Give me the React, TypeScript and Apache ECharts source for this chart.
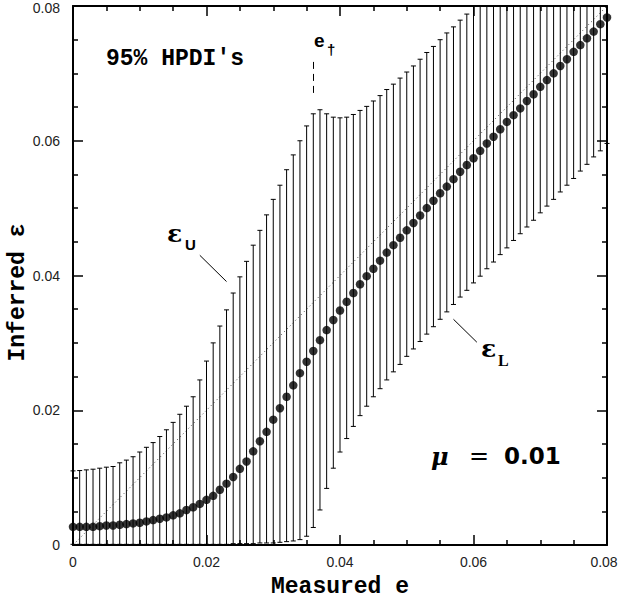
import React, { useEffect, useRef } from "react";
import * as echarts from "echarts";

// Measured e (x positions of the intervals)
const measuredE = [
  0.000, 0.001, 0.002, 0.003, 0.004, 0.005, 0.006, 0.007, 0.008, 0.009,
  0.010, 0.011, 0.012, 0.013, 0.014, 0.015, 0.016, 0.017, 0.018, 0.019,
  0.020, 0.021, 0.022, 0.023, 0.024, 0.025, 0.026, 0.027, 0.028, 0.029,
  0.030, 0.031, 0.032, 0.033, 0.034, 0.035, 0.036, 0.037, 0.038, 0.039,
  0.040, 0.041, 0.042, 0.043, 0.044, 0.045, 0.046, 0.047, 0.048, 0.049,
  0.050, 0.051, 0.052, 0.053, 0.054, 0.055, 0.056, 0.057, 0.058, 0.059,
  0.060, 0.061, 0.062, 0.063, 0.064, 0.065, 0.066, 0.067, 0.068, 0.069,
  0.070, 0.071, 0.072, 0.073, 0.074, 0.075, 0.076, 0.077, 0.078, 0.079,
  0.080,
];

// Inferred epsilon (dots)
const inferredMode = [
  0.0027, 0.0027, 0.0027, 0.0027, 0.0028, 0.0029, 0.0029, 0.0030, 0.0031, 0.0032,
  0.0033, 0.0035, 0.0037, 0.0039, 0.0041, 0.0044, 0.0047, 0.0052, 0.0056, 0.0061,
  0.0067, 0.0073, 0.0082, 0.0091, 0.0101, 0.0113, 0.0124, 0.0139, 0.0154, 0.0168,
  0.0186, 0.0203, 0.0220, 0.0237, 0.0255, 0.0272, 0.0288, 0.0304, 0.0319, 0.0334,
  0.0348, 0.0361, 0.0374, 0.0387, 0.0399, 0.0410, 0.0422, 0.0434, 0.0445, 0.0456,
  0.0467, 0.0478, 0.0489, 0.0500, 0.0511, 0.0522, 0.0532, 0.0543, 0.0554, 0.0564,
  0.0574, 0.0585, 0.0596, 0.0606, 0.0617, 0.0628, 0.0638, 0.0648, 0.0659, 0.0669,
  0.0680, 0.0690, 0.0700, 0.0711, 0.0721, 0.0732, 0.0742, 0.0752, 0.0762, 0.0773,
  0.0783,
];

// Upper end of the 95% HPDI (epsilon_U); values above 0.08 run off the frame
const hpdiUpper = [
  0.0110, 0.01105, 0.01115, 0.01125, 0.0114, 0.01155, 0.01165, 0.0122, 0.0126, 0.0131,
  0.0138, 0.0145, 0.0152, 0.0161, 0.0171, 0.0182, 0.0194, 0.0206, 0.0220, 0.0245,
  0.0273, 0.0300, 0.0325, 0.0349, 0.0374, 0.0398, 0.0421, 0.0445, 0.0467, 0.0490,
  0.0513, 0.0534, 0.0557, 0.0579, 0.0600, 0.0622, 0.0640, 0.0646, 0.0640, 0.0635,
  0.0634, 0.0635, 0.0639, 0.0645, 0.0651, 0.0659, 0.0667, 0.0676, 0.0684, 0.0693,
  0.0702, 0.0711, 0.0721, 0.0731, 0.0740, 0.0750, 0.0760, 0.0769, 0.0779, 0.0788,
  0.0805, 0.0815, 0.0825, 0.0835, 0.0845, 0.0855, 0.0865, 0.0875, 0.0885, 0.0895,
  0.0905, 0.0915, 0.0925, 0.0935, 0.0945, 0.0955, 0.0965, 0.0975, 0.0985, 0.0995,
  0.1005,
];

// Lower end of the 95% HPDI (epsilon_L)
const hpdiLower = [
  0.0001, 0.0001, 0.0001, 0.0001, 0.0001, 0.0001, 0.0001, 0.0001, 0.0001, 0.0001,
  0.0001, 0.0001, 0.0001, 0.0001, 0.0001, 0.0001, 0.0001, 0.0001, 0.0001, 0.0001,
  0.0001, 0.0001, 0.0001, 0.0001, 0.0002, 0.0002, 0.0002, 0.0002, 0.0003, 0.0003,
  0.0003, 0.0004, 0.0005, 0.0006, 0.0008, 0.0013, 0.0026, 0.0052, 0.0084, 0.0114,
  0.0138, 0.0158, 0.0176, 0.0192, 0.0206, 0.0220, 0.0232, 0.0245, 0.0257, 0.0268,
  0.0280, 0.0291, 0.0302, 0.0313, 0.0324, 0.0335, 0.0346, 0.0357, 0.0368, 0.0378,
  0.0389, 0.0399, 0.0410, 0.0420, 0.0431, 0.0441, 0.0452, 0.0462, 0.0472, 0.0482,
  0.0493, 0.0503, 0.0513, 0.0524, 0.0534, 0.0544, 0.0555, 0.0565, 0.0576, 0.0585,
  0.0596,
];

// Reference diagonal (inferred = measured)
const diagonal = [
  [0, 0],
  [0.08, 0.08],
];

// Annotation anchors in data units
const eDaggerMarker = [
  [0.036, 0.0671],
  [0.036, 0.0720],
];
const upperLeader = [
  [0.0190, 0.0430],
  [0.0230, 0.0391],
];
const lowerLeader = [
  [0.0570, 0.0335],
  [0.0605, 0.0301],
];

const AXIS_MIN = 0;
const AXIS_MAX = 0.08;
const AXIS_STEP = 0.02;

const fmt = (v: number) => (v === 0 ? "0" : v.toFixed(2));

export default function App() {
  const ref = useRef<HTMLDivElement>(null);

  useEffect(() => {
    if (!ref.current) return;
    const chart = echarts.init(ref.current, undefined, { renderer: "svg" });

    const frameAxis = (pos: string, showLabel: boolean) => ({
      type: "value",
      min: AXIS_MIN,
      max: AXIS_MAX,
      interval: AXIS_STEP,
      position: pos,
      nameMoveOverlap: false,
      axisLine: { show: true, onZero: false, lineStyle: { color: "#000", width: 2 } },
      axisTick: { show: true, inside: true, length: 10, lineStyle: { color: "#000", width: 1.5 } },
      minorTick: { show: true, splitNumber: 4, length: 5, lineStyle: { color: "#000", width: 1.5 } },
      splitLine: { show: false },
      minorSplitLine: { show: false },
      axisLabel: {
        show: showLabel,
        fontFamily: "Liberation Sans",
        fontSize: 14,
        color: "#222",
      },
    });

    const xBottom: any = frameAxis("bottom", true);
    xBottom.axisLabel.margin = 10;
    xBottom.axisLabel.formatter = (v: number) => (v >= AXIS_MAX - 1e-9 ? "{r|" + fmt(v) + "}" : fmt(v));
    xBottom.axisLabel.rich = {
      r: { fontFamily: "Liberation Sans", fontSize: 14, color: "#222", padding: [0, 6, 0, 0] },
    };
    xBottom.name = "Measured e";
    xBottom.nameLocation = "middle";
    xBottom.nameGap = 30;
    xBottom.nameTextStyle = {
      fontFamily: "Liberation Mono",
      fontWeight: "bold",
      fontSize: 23,
      color: "#000",
    };
    const xTop: any = frameAxis("top", false);

    const yLeft: any = frameAxis("left", true);
    yLeft.axisLabel.margin = 13;
    yLeft.axisLabel.formatter = (v: number) => (v >= AXIS_MAX - 1e-9 ? "{t|" + fmt(v) + "}" : fmt(v));
    yLeft.axisLabel.rich = {
      t: { fontFamily: "Liberation Sans", fontSize: 14, color: "#222", padding: [4, 0, 0, 0] },
    };
    yLeft.name = "Inferred ε";
    yLeft.nameLocation = "middle";
    yLeft.nameGap = 44;
    yLeft.nameRotate = 90;
    // shift the rotated title a little below the axis centre, as in the reference
    yLeft.nameTextStyle = {
      fontFamily: "Liberation Mono",
      fontWeight: "bold",
      fontSize: 23,
      color: "#000",
      padding: [0, 34, 0, 0],
    };
    const yRight: any = frameAxis("right", false);

    const barData = measuredE.map((e, i) => [e, hpdiLower[i], hpdiUpper[i]]);
    const dotData = measuredE.map((e, i) => [e, inferredMode[i]]);

    const lineStyleSolid = { color: "#000", width: 1, type: "solid" };

    chart.setOption({
      animation: false,
      backgroundColor: "#fff",
      grid: {
        left: 73,
        top: 6,
        width: 534,
        height: 539,
        containLabel: false,
        outerBoundsMode: "none",
      },
      xAxis: [xBottom, xTop],
      yAxis: [yLeft, yRight],
      series: [
        {
          type: "line",
          data: diagonal,
          symbol: "none",
          silent: true,
          lineStyle: { color: "#444", width: 1, type: [1, 3] },
          z: 2,
          markLine: {
            silent: true,
            symbol: ["none", "none"],
            label: { show: false },
            data: [
              [
                { coord: eDaggerMarker[0], lineStyle: { color: "#000", width: 1, type: [7, 5] } },
                { coord: eDaggerMarker[1] },
              ],
              [{ coord: upperLeader[0], lineStyle: lineStyleSolid }, { coord: upperLeader[1] }],
              [{ coord: lowerLeader[0], lineStyle: lineStyleSolid }, { coord: lowerLeader[1] }],
            ],
          },
        },
        {
          type: "custom",
          data: barData,
          encode: { x: 0, y: [1, 2] },
          silent: true,
          z: 3,
          renderItem: (params: any, api: any) => {
            const x = api.value(0);
            const lo = api.value(1);
            const hi = api.value(2);
            const pLo = api.coord([x, lo]);
            const pHi = api.coord([x, hi]);
            const cs = params.coordSys;
            const top = Math.max(pHi[1], cs.y);
            const hw = 2.5;
            const st = { stroke: "#000", lineWidth: 1 };
            const children: any[] = [
              { type: "line", shape: { x1: pLo[0], y1: pLo[1], x2: pLo[0], y2: top }, style: st },
              {
                type: "line",
                shape: { x1: pLo[0] - hw, y1: pLo[1], x2: pLo[0] + hw, y2: pLo[1] },
                style: st,
              },
            ];
            if (pHi[1] >= cs.y) {
              children.push({
                type: "line",
                shape: { x1: pHi[0] - hw, y1: pHi[1], x2: pHi[0] + hw, y2: pHi[1] },
                style: st,
              });
            }
            return { type: "group", children };
          },
        },
        {
          type: "scatter",
          data: dotData,
          symbol: "circle",
          symbolSize: 8.5,
          clip: false,
          silent: true,
          itemStyle: { color: "#000" },
          z: 5,
        },
      ],
      graphic: [
        {
          type: "text",
          left: 106,
          top: 47,
          style: {
            text: "95% HPDI's",
            fontFamily: "Liberation Mono",
            fontWeight: "bold",
            fontSize: 23,
            fill: "#000",
          },
        },
        {
          type: "text",
          left: 314,
          top: 31,
          style: { text: "e", fontFamily: "Liberation Sans", fontWeight: "bold", fontSize: 19, fill: "#000" },
        },
        {
          type: "text",
          left: 327,
          top: 42,
          style: { text: "†", fontFamily: "Liberation Sans", fontWeight: "bold", fontSize: 15, fill: "#000" },
        },
        {
          type: "text",
          left: 167,
          top: 221,
          style: { text: "ε", fontFamily: "DejaVu Serif", fontWeight: "bold", fontSize: 25, fill: "#000" },
        },
        {
          type: "text",
          left: 185,
          top: 237,
          style: { text: "U", fontFamily: "Liberation Sans", fontWeight: "bold", fontSize: 15, fill: "#000" },
        },
        {
          type: "text",
          left: 481,
          top: 336,
          style: { text: "ε", fontFamily: "DejaVu Serif", fontWeight: "bold", fontSize: 25, fill: "#000" },
        },
        {
          type: "text",
          left: 498,
          top: 352,
          style: { text: "L", fontFamily: "Liberation Serif", fontWeight: "bold", fontSize: 16, fill: "#000" },
        },
        {
          type: "text",
          left: 431,
          top: 444,
          style: {
            text: "{mu|μ}{eq|=}{num|0.01}",
            rich: {
              mu: {
                fontFamily: "DejaVu Serif",
                fontStyle: "italic",
                fontWeight: "bold",
                fontSize: 24,
                width: 38,
                fill: "#000",
              },
              eq: { fontFamily: "DejaVu Sans", fontSize: 24, width: 35, fill: "#000" },
              num: { fontFamily: "DejaVu Sans", fontWeight: "bold", fontSize: 23, fill: "#000" },
            },
          },
        },
      ],
    });

    return () => chart.dispose();
  }, []);

  return (
    <div
      ref={ref}
      style={{ position: "absolute", left: 0, top: 0, width: 618, height: 599, background: "#fff" }}
    />
  );
}
